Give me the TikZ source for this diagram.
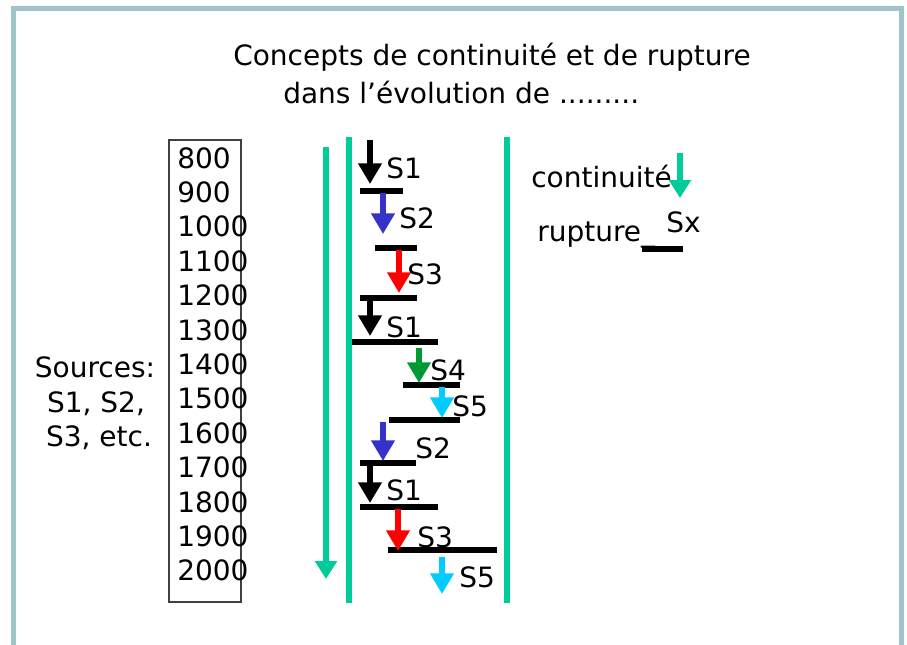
\documentclass[tikz,border=0pt]{standalone}
\usepackage{fontspec}
\setmainfont{DejaVu Sans}
\usetikzlibrary{arrows.meta}

\definecolor{framecol}{RGB}{159,197,203}
\definecolor{contgreen}{RGB}{0,204,153}
\definecolor{srcblue}{RGB}{51,51,204}
\definecolor{srcred}{RGB}{255,0,0}
\definecolor{srcgreen}{RGB}{0,153,51}
\definecolor{srccyan}{RGB}{0,204,255}

\begin{document}
\begin{tikzpicture}[x=0.75pt,y=-0.75pt,
  txt/.style={inner sep=0pt, font=\fontsize{21}{25}\selectfont},
  srcarrow/.style={line width=5pt, -{Triangle[width=17pt,length=15.5pt]}},
  cutbar/.style={line width=4.5pt, black},
  contline/.style={contgreen, line width=4.5pt},
  contarrow/.style={contgreen, line width=4.5pt, -{Triangle[width=16pt,length=13.5pt]}}]

\useasboundingbox (0,0) rectangle (907,644);
\fill[white] (0,0) rectangle (907,644);

% outer frame (open at the bottom)
\draw[framecol, line width=3.75pt] (13,648) -- (13,8) -- (901,8) -- (901,648);

% title
\node[txt, anchor=base west] (title1) at (233,65) {Concepts de continuité et de rupture};
\node[txt, anchor=base west] (title2) at (283,103) {dans l’évolution de .........};

% sources
\node[txt, anchor=base] (src1) at (95,377) {Sources:};
\node[txt, anchor=base] (src2) at (96,412) {S1, S2,};
\node[txt, anchor=base] (src3) at (99,446) {S3, etc.};

% time scale box and years
\draw[black!75, line width=0.9pt] (169,140) rectangle (241,602);
\foreach \yr [count=\i from 0] in {800,900,1000,1100,1200,1300,1400,1500,1600,1700,1800,1900,2000} {
  \node[txt, anchor=base west] (yr\yr) at (177,{168+34.4*\i}) {\yr};
}

% continuity axes
\coordinate (axtop) at (326,147);
\coordinate (axtip) at (326,579);
\draw[contarrow] (axtop) -- (axtip);
\coordinate (lefttop) at (349,137);
\coordinate (leftbot) at (349,603);
\draw[contline] (lefttop) -- (leftbot);
\coordinate (righttop) at (507,137);
\coordinate (rightbot) at (507,603);
\draw[contline] (righttop) -- (rightbot);

% rupture bars
\foreach \n/\y/\xa/\xb in {1/191/360/403, 2/248/375/417, 3/298/360/417,
  4/342/352/438, 5/385/403/460, 6/420/389/460, 7/463/360/416,
  8/507/360/438, 9/550/388/497} {
  \coordinate (cut\n a) at (\xa,\y);
  \coordinate (cut\n b) at (\xb,\y);
  \draw[cutbar] (cut\n a) -- (cut\n b);
}

% source arrows with labels
\foreach \n/\x/\ya/\yb/\c/\s/\lx/\ly in {
  1/370/140/184/black/S1/386/178,
  2/383/193/234/srcblue/S2/399/228,
  3/399/250/293/srcred/S3/407/284,
  4/370/300/336/black/S1/386/337,
  5/419/348/383/srcgreen/S4/430/380,
  6/442/387/418/srccyan/S5/452/416,
  7/383/422/461/srcblue/S2/415/458,
  8/370/465/503/black/S1/386/500,
  9/398/509/551/srcred/S3/417/547,
  10/442/557/594/srccyan/S5/459/587} {
  \coordinate (arr\n top) at (\x,\ya);
  \coordinate (arr\n tip) at (\x,\yb);
  \draw[srcarrow, \c] (arr\n top) -- (arr\n tip);
  \node[txt, anchor=base west] (lbl\n) at (\lx,\ly) {\s};
}

% legend
\node[txt, anchor=base west] (legcont) at (531,187) {continuité};
\coordinate (legtop) at (680,153);
\coordinate (legtip) at (680,198);
\draw[contarrow] (legtop) -- (legtip);
\node[txt, anchor=base west] (legrupt) at (537,241) {rupture\_};
\coordinate (legcuta) at (642,249);
\coordinate (legcutb) at (683,249);
\draw[cutbar] (legcuta) -- (legcutb);
\node[txt, anchor=base west] (legsx) at (666,232) {Sx};
\end{tikzpicture}
\end{document}
